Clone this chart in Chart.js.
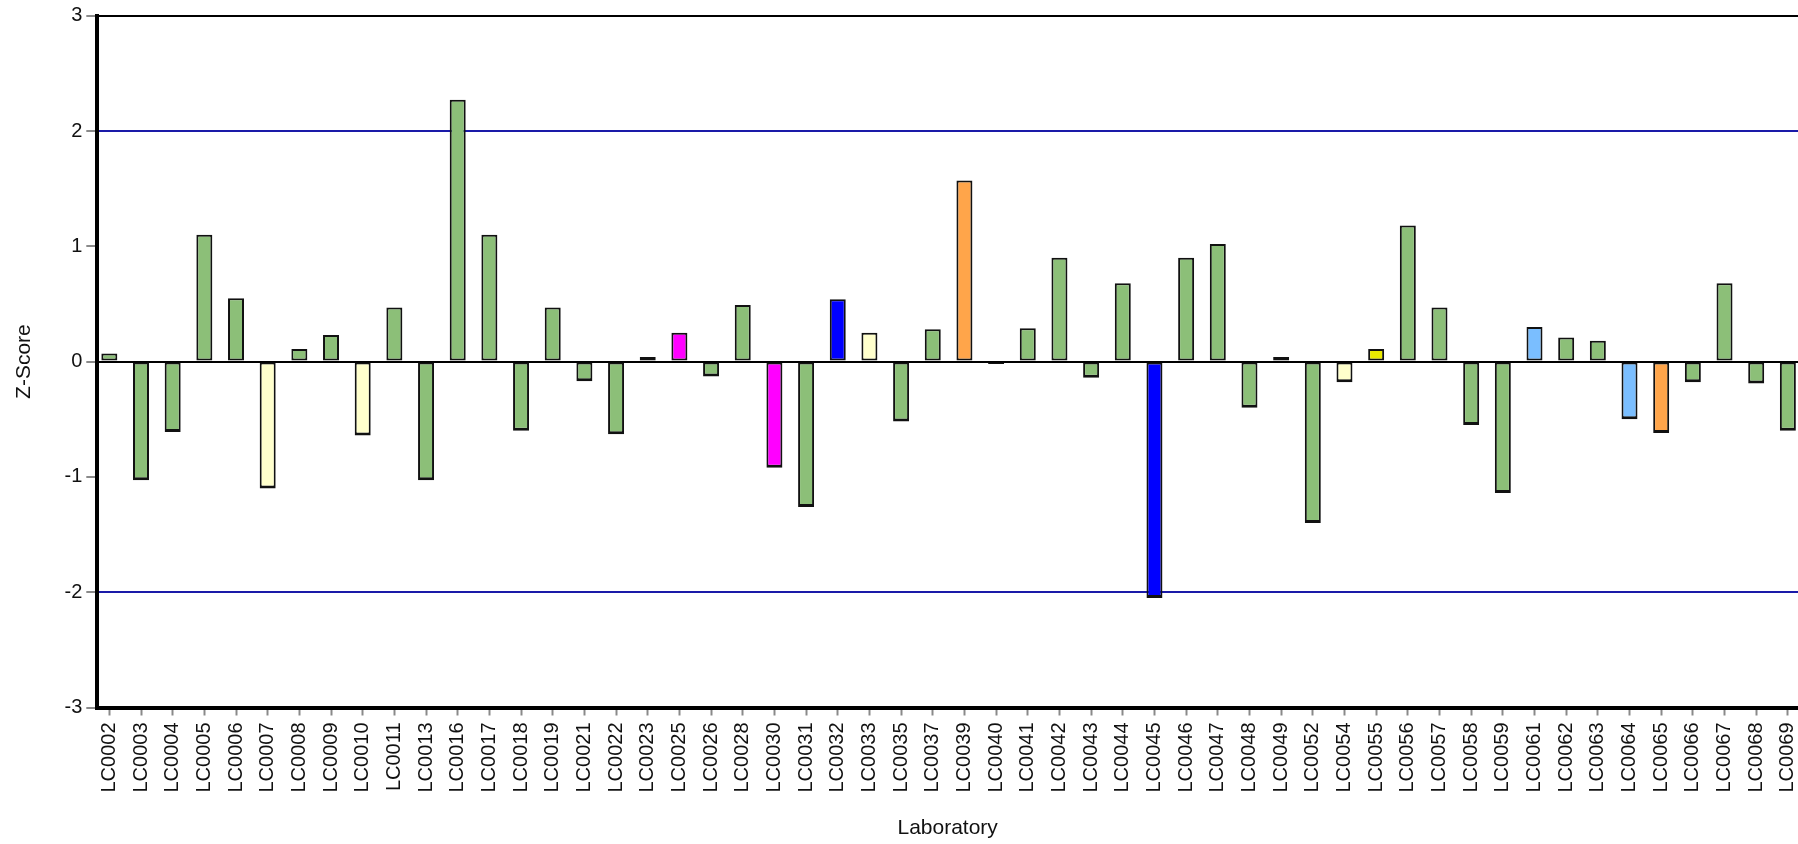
<!DOCTYPE html>
<html>
<head>
<meta charset="utf-8">
<title>Z-Score by Laboratory</title>
<script src="https://cdn.jsdelivr.net/npm/chart.js@4.4.1/dist/chart.umd.min.js"></script>
<style>
  html, body { margin: 0; padding: 0; background: #fff; overflow: hidden; }
  #chart { display: block; }
</style>
</head>
<body>
<canvas id="chart" width="1798" height="844" style="width:1798px;height:844px"></canvas>
<script>
// laboratories, in axis order
const LABS = [
  'LC0002', 'LC0003', 'LC0004', 'LC0005', 'LC0006', 'LC0007', 'LC0008', 'LC0009', 'LC0010', 'LC0011',
  'LC0013', 'LC0016', 'LC0017', 'LC0018', 'LC0019', 'LC0021', 'LC0022', 'LC0023', 'LC0025', 'LC0026',
  'LC0028', 'LC0030', 'LC0031', 'LC0032', 'LC0033', 'LC0035', 'LC0037', 'LC0039', 'LC0040', 'LC0041',
  'LC0042', 'LC0043', 'LC0044', 'LC0045', 'LC0046', 'LC0047', 'LC0048', 'LC0049', 'LC0052', 'LC0054',
  'LC0055', 'LC0056', 'LC0057', 'LC0058', 'LC0059', 'LC0061', 'LC0062', 'LC0063', 'LC0064', 'LC0065',
  'LC0066', 'LC0067', 'LC0068', 'LC0069',
];

// z-score per lab
const ZSCORES = [
  0.07, -1.03, -0.61, 1.10, 0.55, -1.10, 0.11, 0.23, -0.64, 0.47,
  -1.03, 2.27, 1.10, -0.60, 0.47, -0.17, -0.63, 0.04, 0.25, -0.13,
  0.49, -0.92, -1.26, 0.54, 0.25, -0.52, 0.28, 1.57, -0.02, 0.29,
  0.90, -0.14, 0.68, -2.05, 0.90, 1.02, -0.40, 0.04, -1.40, -0.18,
  0.11, 1.18, 0.47, -0.55, -1.14, 0.30, 0.21, 0.18, -0.50, -0.62,
  -0.18, 0.68, -0.19, -0.60,
];

// group code per lab -> bar colour
const GROUPS = [
  'g', 'g', 'g', 'g', 'g', 'y', 'g', 'g', 'y', 'g',
  'g', 'g', 'g', 'g', 'g', 'g', 'g', 'g', 'm', 'g',
  'g', 'm', 'g', 'b', 'y', 'g', 'g', 'o', 'g', 'g',
  'g', 'g', 'g', 'b', 'g', 'g', 'g', 'g', 'g', 'y',
  'k', 'g', 'g', 'g', 'g', 'l', 'g', 'g', 'l', 'o',
  'g', 'g', 'g', 'g',
];

const Y_MIN = -3;
const Y_MAX = 3;
const LIMITS = [-2, 2];

const PALETTE = {
  g: '#8CBF78', y: '#FFFFCC', m: '#FF00FF', b: '#0000FF',
  o: '#FFA54A', k: '#EBEB00', l: '#7ABEFF',
};

const FONT = 'Arial, "Liberation Sans", sans-serif';
const TICK_GRAY = '#8a8a8a';

const points = LABS.map((lab, i) => ({ x: i, y: ZSCORES[i] }));

new Chart(document.getElementById('chart').getContext('2d'), {
  type: 'bar',
  data: {
    datasets: [{
      data: points,
      backgroundColor: GROUPS.map((g) => PALETTE[g]),
      borderColor: '#111',
      borderWidth: (ctx) => (ctx.raw && ctx.raw.y < 0
        ? { top: 2, left: 2, right: 2, bottom: 3 } : 2),
      borderSkipped: false,
      barPercentage: 0.505,
      categoryPercentage: 1,
    }],
  },
  options: {
    responsive: false,
    animation: false,
    devicePixelRatio: 1,
    layout: { padding: { top: 15.7, left: 0, right: 0, bottom: 0 } },
    plugins: { legend: { display: false }, tooltip: { enabled: false } },
    scales: {
      x: {
        type: 'linear',
        offset: false,
        min: -0.38,
        max: 53.32,
        afterBuildTicks: (axis) => { axis.ticks = LABS.map((_, i) => ({ value: i })); },
        afterFit: (s) => { s.height = 136.5; s.paddingLeft = 0; s.paddingRight = 0; },
        border: { display: true, color: '#000', width: 4 },
        grid: {
          offset: false, drawOnChartArea: false, drawTicks: true, tickLength: 8,
          tickColor: TICK_GRAY, tickWidth: 2, color: TICK_GRAY,
        },
        ticks: {
          autoSkip: false, minRotation: 90, maxRotation: 90, padding: 7,
          color: '#111', font: { family: FONT, size: 20 },
          callback: (v) => LABS[v],
        },
        title: {
          display: true, text: 'Laboratory', color: '#111',
          font: { family: FONT, size: 21 }, padding: { top: 0, bottom: 3 },
        },
      },
      y: {
        min: Y_MIN,
        max: Y_MAX,
        afterFit: (s) => { s.width = 97.3; s.paddingTop = 0; s.paddingBottom = 0; },
        border: { display: true, color: '#000', width: 4 },
        grid: {
          drawTicks: true, tickLength: 11, tickColor: TICK_GRAY, tickWidth: 2,
          lineWidth: 2,
          color: (ctx) => {
            const v = ctx.tick && ctx.tick.value;
            if (LIMITS.includes(v)) return '#1a1aa8';
            if (v === 0 || v === Y_MAX) return '#000';
            return 'rgba(0,0,0,0)';
          },
        },
        ticks: {
          stepSize: 1, padding: 4,
          color: '#111', font: { family: FONT, size: 20 },
        },
        title: {
          display: true, text: 'Z-Score', color: '#111',
          font: { family: FONT, size: 21 }, padding: { top: 12, bottom: 0 },
        },
      },
    },
  },
});
</script>
</body>
</html>
